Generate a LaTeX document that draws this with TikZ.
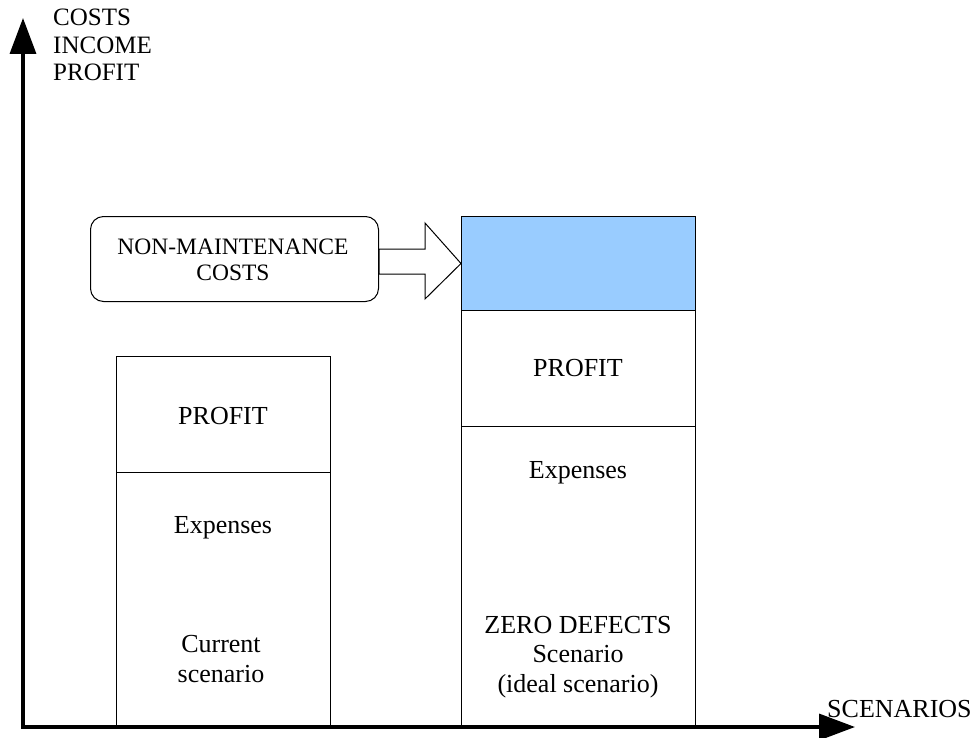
\documentclass[tikz,border=0pt]{standalone}
\usepackage{fontspec}
\setmainfont{Liberation Serif}
\usetikzlibrary{arrows.meta}
\definecolor{barblue}{HTML}{99CCFF}
\begin{document}
\begin{tikzpicture}[x=1pt,y=-1pt,
  box/.style={draw=black, line width=1pt, inner sep=0pt, anchor=north west},
  lbl/.style={font=\fontsize{26}{29.5}\selectfont, align=center, inner sep=0pt, anchor=base},
  axisline/.style={line width=3.5pt, -{Triangle[length=36pt,width=26pt]}}]
\useasboundingbox (0,0) rectangle (976,738);
% axes
\coordinate (yfoot) at (23,728.75);
\coordinate (xfoot) at (21.25,727);
\coordinate (ytip) at (23,18);
\coordinate (xtip) at (855,727);
\draw[axisline] (yfoot) -- (ytip);
\draw[axisline] (xfoot) -- (xtip);
\node[font=\fontsize{25}{27.5}\selectfont, align=left, inner sep=0pt, anchor=base west] (ylabel) at (53,81) {COSTS\\INCOME\\PROFIT};
\node[lbl, anchor=base west] (xlabel) at (827,717) {SCENARIOS};
% left bar
\node[box, minimum width=214pt, minimum height=116pt] (lprofit) at (116,356) {};
\node[box, minimum width=214pt, minimum height=255pt] (lexp) at (116,472) {};
\node[lbl] (lprofitt) at (223,424) {PROFIT};
\node[lbl] (lexpt) at (223,533) {Expenses};
\node[lbl] (lcur) at (221,682) {Current\\scenario};
% right bar
\node[box, fill=barblue, minimum width=234pt, minimum height=94pt] (blue) at (461,216) {};
\node[box, minimum width=234pt, minimum height=116pt] (rprofit) at (461,310) {};
\node[box, minimum width=234pt, minimum height=301pt] (rexp) at (461,426) {};
\node[lbl] (rprofitt) at (578,376) {PROFIT};
\node[lbl] (rexpt) at (578,478) {Expenses};
\node[lbl] (rzero) at (578,692) {ZERO DEFECTS\\Scenario\\(ideal scenario)};
% callout
\node[draw=black, line width=1pt, rounded corners=13pt, minimum width=288pt, minimum height=85pt, anchor=north west, inner sep=0pt] (callout) at (90,216) {};
\node[font=\fontsize{23.5}{26}\selectfont, align=center, inner sep=0pt, anchor=base] (calloutt) at (233,280) {NON-MAINTENANCE\\COSTS};
\draw[line width=1pt, fill=white, line join=miter] (callout.east |- 0,249) -- (425,249) -- (425,223) -- (blue.west) -- (425,299) -- (425,274) -- (callout.east |- 0,274) -- cycle;
\end{tikzpicture}
\end{document}
